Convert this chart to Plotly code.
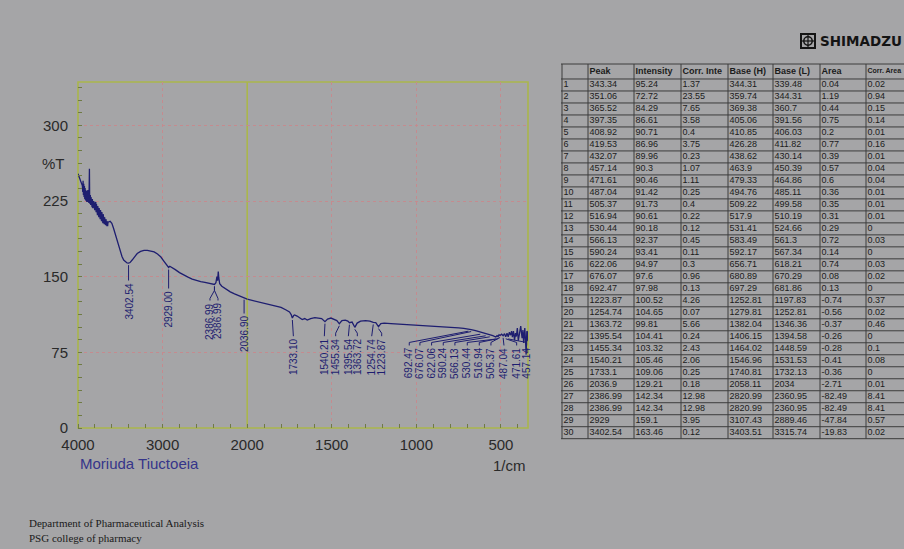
import plotly.graph_objects as go

# ---------------- spectrum: wavenumber (1/cm) vs %T ----------------
wavenumber = [
    4000, 3985, 3970, 3958, 3952,
    3948, 3944, 3940, 3936, 3932, 3928, 3924, 3920, 3916, 3912, 3908, 3904, 3900, 3896,
    3892, 3888, 3884, 3880, 3876, 3872, 3868, 3865, 3862, 3858, 3854, 3850, 3846, 3842,
    3838, 3834, 3830, 3826, 3822, 3818, 3814, 3810, 3806, 3802, 3798, 3794, 3790, 3786,
    3782, 3778, 3774, 3770, 3766, 3762, 3758, 3754, 3750, 3746, 3742, 3738, 3734, 3730,
    3726, 3722, 3718, 3714, 3710, 3706, 3702, 3698, 3694, 3690, 3686, 3682, 3678, 3674,
    3670, 3666, 3662, 3658, 3654, 3650, 3645,
    3620, 3600, 3580, 3560, 3540, 3520, 3500, 3480, 3460, 3440, 3420,
    3402.54, 3385, 3360, 3330, 3300, 3260, 3220, 3180, 3140, 3100, 3060, 3020, 2990, 2960,
    2940, 2929, 2915, 2900, 2880, 2850, 2800, 2750, 2700, 2650, 2600, 2550, 2500, 2450,
    2420, 2386.99, 2370, 2358, 2350, 2342, 2336, 2325, 2300, 2250, 2200, 2150, 2100, 2060,
    2036.9, 2000, 1960, 1900, 1850, 1800, 1770, 1750, 1740, 1733.1, 1725, 1720, 1705, 1690,
    1675, 1660, 1645, 1625, 1600, 1580, 1560, 1540.21, 1525, 1505, 1485, 1470, 1455.34,
    1440, 1420, 1405, 1395.54, 1380, 1363.72, 1350, 1330, 1300, 1275, 1254.74, 1240,
    1223.87, 1210, 1190, 1150, 1100, 1050, 1000, 950, 900, 850, 800, 750, 720, 692.47, 684,
    676.07, 650, 635, 622.06, 605, 590.24, 578, 566.13, 548, 530.44, 523, 516.94, 511,
    505.37, 496, 487.04, 479, 471.61, 464, 457.14, 450, 443, 437, 432.07, 426, 419.53, 414,
    408.92, 403, 397.35, 390, 383, 375, 370, 365.52, 359, 355, 351.06, 347, 343.34, 340,
]
transmittance = [
    252, 249, 246, 243, 241,
    240, 234, 245, 231, 242, 229, 240, 227, 238, 226, 236, 225, 235, 224,
    233, 225, 236, 224, 232, 223, 240, 257, 228, 222, 231, 221, 229, 220,
    228, 219, 227, 218, 226, 219, 225, 217, 224, 216, 223, 215, 224, 214,
    222, 212, 221, 211, 220, 210, 219, 209, 218, 208, 217, 207, 216, 206,
    215, 205, 214, 204, 213, 203, 212, 203, 210, 202, 209, 201, 208, 201,
    207, 200, 206, 200, 205, 200, 204,
    205, 203, 198, 192, 186, 180, 175, 170, 166.5, 164.5, 163.6,
    163.46, 164, 166.5, 170, 173, 175, 176, 176, 175.5, 174.5, 172.5, 169.5, 166, 162,
    160, 159.1, 160.3, 159.6, 158.5, 157, 154, 151.5, 149.5, 147.5, 146, 145, 144.3, 143.6,
    143, 142.34, 144, 150, 146, 155, 149, 143, 140.5, 137.5, 135, 133, 131, 129.8,
    129.21, 127.7, 126, 123.5, 121.5, 119.5, 117, 115, 112.5, 109.06, 111.5, 112, 111, 109,
    107.5, 108.5, 107, 108.5, 109.5, 109, 108.5, 105.46, 108, 109, 107.5, 106.5, 103.32,
    106.5, 107, 106, 104.41, 105, 99.81, 104, 106, 106.5, 106, 104.65, 104.5,
    100.52, 103.5, 104, 103.5, 103, 102.5, 102, 102, 101.5, 101, 100, 99.3, 98.7, 97.98, 98.3,
    97.6, 96.5, 95.8, 94.97, 94.3, 93.41, 93.4, 92.37, 91.5, 90.18, 91.5, 90.61, 92.5,
    91.73, 93, 91.42, 93.5, 90.46, 94, 90.3, 95, 92, 96, 89.96, 96, 86.96, 94,
    90.71, 99, 86.61, 93, 101, 89, 97, 84.29, 99, 88, 72.72, 96, 95.24, 86,
]

# ---------------- peak table ----------------
peak = [343.34, 351.06, 365.52, 397.35, 408.92, 419.53, 432.07, 457.14, 471.61, 487.04,
        505.37, 516.94, 530.44, 566.13, 590.24, 622.06, 676.07, 692.47, 1223.87, 1254.74,
        1363.72, 1395.54, 1455.34, 1540.21, 1733.1, 2036.9, 2386.99, 2386.99, 2929, 3402.54]
intensity = [95.24, 72.72, 84.29, 86.61, 90.71, 86.96, 89.96, 90.3, 90.46, 91.42,
             91.73, 90.61, 90.18, 92.37, 93.41, 94.97, 97.6, 97.98, 100.52, 104.65,
             99.81, 104.41, 103.32, 105.46, 109.06, 129.21, 142.34, 142.34, 159.1, 163.46]
corr_intensity = [1.37, 23.55, 7.65, 3.58, 0.4, 3.75, 0.23, 1.07, 1.11, 0.25,
                  0.4, 0.22, 0.12, 0.45, 0.11, 0.3, 0.96, 0.13, 4.26, 0.07,
                  5.66, 0.24, 2.43, 2.06, 0.25, 0.18, 12.98, 12.98, 3.95, 0.12]
base_high = [344.31, 359.74, 369.38, 405.06, 410.85, 426.28, 438.62, 463.9, 479.33, 494.76,
             509.22, 517.9, 531.41, 583.49, 592.17, 656.71, 680.89, 697.29, 1252.81, 1279.81,
             1382.04, 1406.15, 1464.02, 1546.96, 1740.81, 2058.11, 2820.99, 2820.99, 3107.43, 3403.51]
base_low = [339.48, 344.31, 360.7, 391.56, 406.03, 411.82, 430.14, 450.39, 464.86, 485.11,
            499.58, 510.19, 524.66, 561.3, 567.34, 618.21, 670.29, 681.86, 1197.83, 1252.81,
            1346.36, 1394.58, 1448.59, 1531.53, 1732.13, 2034, 2360.95, 2360.95, 2889.46, 3315.74]
area = [0.04, 1.19, 0.44, 0.75, 0.2, 0.77, 0.39, 0.57, 0.6, 0.36,
        0.35, 0.31, 0.29, 0.72, 0.14, 0.74, 0.08, 0.13, -0.74, -0.56,
        -0.37, -0.26, -0.28, -0.41, -0.36, -2.71, -82.49, -82.49, -47.84, -19.83]
corr_area = [0.02, 0.94, 0.15, 0.14, 0.01, 0.16, 0.01, 0.04, 0.04, 0.01,
             0.01, 0.01, 0, 0.03, 0, 0.03, 0.02, 0, 0.37, 0.02,
             0.46, 0, 0.1, 0.08, 0, 0.01, 8.41, 8.41, 0.57, 0.02]
table_headers = ["", "Peak", "Intensity", "Corr. Inte", "Base (H)", "Base (L)", "Area", "Corr. Area"]
header_sizes = [9, 9, 9, 9, 9, 9, 9, 7]

# ---------------- axis ticks ----------------
x_ticks_high = [4000, 3000, 2000]
x_ticks_low = [1500, 1000, 500]
y_ticks = [0, 75, 150, 225, 300]

# table rows (1-based) whose peaks carry a label on the spectrum
labelled_rows = [30, 29, 27, 28, 26, 25, 24, 23, 22, 21, 20, 19,
                 18, 17, 16, 15, 14, 13, 12, 11, 10, 9, 8]

# label placement (wavenumber of the text column, %T where the text starts)
label_at = [3402.54, 2929, 2440, 2345, 2036.9, 1727, 1544, 1477, 1402, 1349, 1264, 1205,
            1042, 979, 910, 841, 772, 699, 628, 559, 482, 407, 348]
label_top = [146.2, 138.3, 126.4, 126.4, 113.5, 91, 91, 91, 91, 91, 91, 91,
             81.8, 81.8, 81.8, 81.8, 81.8, 81.8, 81.8, 81.8, 81.8, 81.8, 81.8]
label_fork = [False, False, True, True] + [False] * 19

# ---------------- styling ----------------
W, H = 904, 549
BG = "#a5a5a7"
NAVY = "#1e1e70"
GRID = "#c48b8f"
FRAME = "#aab64c"
TICKC = "#6f7a45"
SANS = "Liberation Sans, Arial, sans-serif"


def px(x):
    return x / W


def py(y):
    return (H - y) / H


# plotting frame in pixels
PL, PR, PT, PB = 78, 528, 82, 428
SPLIT = 247.2  # the 2000 1/cm break (high range drawn at half scale)

fig = go.Figure()

# leader lines from each labelled peak to its text
lead = {"x": ([], []), "x2": ([], [])}
for row, lx, top, fork in zip(labelled_rows, label_at, label_top, label_fork):
    w, t = peak[row - 1], intensity[row - 1]
    ax = "x" if min(w, lx) >= 2000 else "x2"
    if fork:
        xs = [w, w, lx, lx]
        ys = [t - 2, t - 6, top + 2, top]
    else:
        xs = [w, lx, lx]
        ys = [t - 2, top + 3, top]
    lead[ax][0].extend(xs + [None])
    lead[ax][1].extend(ys + [None])

for ax, (xs, ys) in lead.items():
    fig.add_trace(go.Scatter(x=xs, y=ys, mode="lines", xaxis=ax, yaxis="y",
                             line=dict(color=NAVY, width=1), hoverinfo="skip"))

# spectrum, split over the two wavenumber scales
hi = [(w, t) for w, t in zip(wavenumber, transmittance) if w >= 2000]
lo = [(w, t) for w, t in zip(wavenumber, transmittance) if w <= 2000]
fig.add_trace(go.Scatter(x=[p[0] for p in hi], y=[p[1] for p in hi], mode="lines",
                         xaxis="x", yaxis="y", line=dict(color=NAVY, width=1.3)))
fig.add_trace(go.Scatter(x=[p[0] for p in lo], y=[p[1] for p in lo], mode="lines",
                         xaxis="x2", yaxis="y", line=dict(color=NAVY, width=1.3)))

# peak labels
for row, lx, top in zip(labelled_rows, label_at, label_top):
    ax = "x" if lx >= 2000 else "x2"
    fig.add_annotation(x=lx, y=top, xref=ax, yref="y", text=f"{peak[row - 1]:.2f}",
                       textangle=-90, xanchor="center", yanchor="top", showarrow=False,
                       font=dict(family=SANS, size=10, color=NAVY))

# ---------------- peak table as its own text grid ----------------
col_edges = [0, 26, 72, 119, 166, 211, 258, 304]
table_right = 342
n_rows = len(peak)
row_index = list(range(1, n_rows + 1))
columns = [row_index, peak, intensity, corr_intensity, base_high, base_low, area, corr_area]

gx, gy = [], []
for r in [-1.25] + list(range(0, n_rows + 1)):
    gx += [-1, table_right, None]
    gy += [r, r, None]
for e in col_edges:
    gx += [e, e, None]
    gy += [-1.25, n_rows, None]
fig.add_trace(go.Scatter(x=gx, y=gy, mode="lines", xaxis="x3", yaxis="y3",
                         line=dict(color="#3c3c3c", width=1), hoverinfo="skip"))

row_mid = [i + 0.5 for i in range(n_rows)]
for edge, head, hsize, vals in zip(col_edges, table_headers, header_sizes, columns):
    # body cells
    fig.add_trace(go.Scatter(x=[edge + 1.5] * n_rows, y=row_mid, text=[f"{v:g}" for v in vals],
                             mode="text", textposition="middle right", xaxis="x3", yaxis="y3",
                             cliponaxis=True,
                             textfont=dict(family=SANS, size=9, color="#1c1c1c")))
    # header cell
    if head:
        fig.add_trace(go.Scatter(x=[edge + 1.5], y=[-0.625], text=[f"<b>{head}</b>"],
                                 mode="text", textposition="middle right", xaxis="x3", yaxis="y3",
                                 cliponaxis=True,
                                 textfont=dict(family=SANS, size=hsize, color="#1c1c1c")))

# ---------------- axes ----------------
common_x = dict(showline=False, zeroline=False, ticks="", showgrid=True, gridcolor=GRID,
                griddash="3px,3px", gridwidth=1, tickfont=dict(family=SANS, size=15, color="#2a2a2a"),
                ticklabelstandoff=6, automargin=False, anchor="y")
fig.update_layout(
    width=W, height=H,
    margin=dict(l=0, r=0, t=0, b=0),
    paper_bgcolor=BG, plot_bgcolor=BG,
    showlegend=False,
    xaxis=dict(domain=[px(PL), px(SPLIT)], range=[4000, 2000], tickvals=x_ticks_high,
               ticktext=[str(v) for v in x_ticks_high],
               minor=dict(ticks="inside", ticklen=4, dtick=200, tick0=0, tickcolor=TICKC, showgrid=False),
               **common_x),
    xaxis2=dict(domain=[px(SPLIT), px(PR)], range=[2000, 340], tickvals=x_ticks_low,
                ticktext=[str(v) for v in x_ticks_low],
                minor=dict(ticks="inside", ticklen=4, dtick=100, tick0=0, tickcolor=TICKC, showgrid=False),
                **common_x),
    yaxis=dict(domain=[py(PB), py(PT)], range=[0, 343], tickvals=y_ticks,
               showline=False, zeroline=False, ticks="", showgrid=True, gridcolor=GRID,
               griddash="3px,3px", gridwidth=1, anchor="x", automargin=False,
               ticklabelstandoff=9,
               tickfont=dict(family=SANS, size=15, color="#2a2a2a"),
               minor=dict(ticks="inside", ticklen=4, dtick=12.5, tick0=0, tickcolor=TICKC, showgrid=False)),
    xaxis3=dict(domain=[px(561), 1], range=[-1, table_right], visible=False, anchor="y3"),
    yaxis3=dict(domain=[py(439.9), py(62.8)], range=[n_rows + 0.1, -1.35], visible=False, anchor="x3"),
)

# frame of the plotting area and the scale break at 2000
fig.add_shape(type="rect", xref="paper", yref="paper", x0=px(PL), x1=px(PR), y0=py(PB), y1=py(PT),
              line=dict(color=FRAME, width=1.6), layer="between")
fig.add_shape(type="line", xref="paper", yref="paper", x0=px(SPLIT), x1=px(SPLIT), y0=py(PB), y1=py(PT),
              line=dict(color=FRAME, width=1.6), layer="between")

# axis captions
fig.add_annotation(x=px(PL - 11), y=py(164), xref="paper", yref="paper", text="%T",
                   xanchor="right", yanchor="middle", showarrow=False,
                   font=dict(family=SANS, size=15, color="#2a2a2a"))
fig.add_annotation(x=px(PR), y=py(465), xref="paper", yref="paper", text="1/cm",
                   xanchor="right", yanchor="middle", showarrow=False,
                   font=dict(family=SANS, size=15, color="#2a2a2a"))
fig.add_annotation(x=px(PL), y=py(463), xref="paper", yref="paper", text="Moriuda Tiuctoeia",
                   xanchor="left", yanchor="middle", showarrow=False,
                   font=dict(family=SANS, size=15, color="#35358a"))

# manufacturer mark
fig.add_shape(type="rect", xref="paper", yref="paper", x0=px(801), x1=px(815), y0=py(48), y1=py(34),
              line=dict(color="#141414", width=2))
fig.add_shape(type="circle", xref="paper", yref="paper", x0=px(803.8), x1=px(812.2), y0=py(45.2), y1=py(36.8),
              line=dict(color="#141414", width=1.5))
fig.add_shape(type="line", xref="paper", yref="paper", x0=px(808), x1=px(808), y0=py(47), y1=py(35),
              line=dict(color="#141414", width=1.2))
fig.add_shape(type="line", xref="paper", yref="paper", x0=px(802), x1=px(814), y0=py(41), y1=py(41),
              line=dict(color="#141414", width=1.2))
fig.add_annotation(x=px(818), y=py(41), xref="paper", yref="paper", text="<b>SHIMADZU</b>",
                   xanchor="left", yanchor="middle", showarrow=False,
                   font=dict(family="DejaVu Sans, sans-serif", size=13.5, color="#141414"))

# footer
fig.add_annotation(x=px(27), y=py(523), xref="paper", yref="paper",
                   text="Department of Pharmaceutical Analysis", xanchor="left", yanchor="middle",
                   showarrow=False, font=dict(family="Liberation Serif, Times New Roman, serif", size=11, color="#1a1a1a"))
fig.add_annotation(x=px(27), y=py(538), xref="paper", yref="paper",
                   text="PSG college of pharmacy", xanchor="left", yanchor="middle",
                   showarrow=False, font=dict(family="Liberation Serif, Times New Roman, serif", size=11, color="#1a1a1a"))

fig.write_html("out.html")
